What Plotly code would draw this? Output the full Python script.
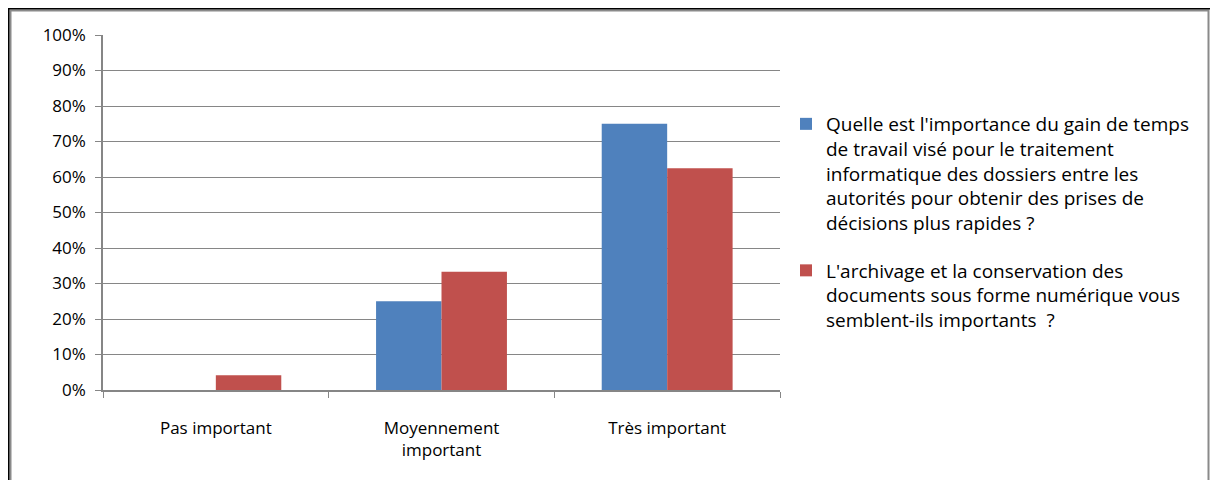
import plotly.graph_objects as go

categories = ["Pas important", "Moyennement<br>important", "Très important"]
series_names = [
    "Quelle est l'importance du gain de temps<br>de travail visé pour le traitement<br>"
    "informatique des dossiers entre les<br>autorités pour obtenir des prises de<br>"
    "décisions plus rapides ?",
    "L'archivage et la conservation des<br>documents sous forme numérique vous<br>"
    "semblent-ils importants  ?",
]
gain_temps = [0, 25, 75]
archivage = [4.17, 33.33, 62.5]
colors = ["#4F81BD", "#C0504D"]
y_ticks = list(range(0, 101, 10))
y_labels = [f"{v}%" for v in y_ticks]

# the page body has an 8px margin, so the figure is placed 8px in
OFF = 8
W, H = 1218 - 2 * OFF, 488 - 2 * OFF
L, R, T, B = 103, 780, 35, 390  # plot area, in page pixels


def px(x):
    return (x - L) / (R - L)


def py(y):
    return (B - y) / (B - T)


fig = go.Figure()
for name, vals, col, grp in zip(series_names, [gain_temps, archivage], colors, ["a", "b"]):
    fig.add_trace(go.Bar(x=categories, y=vals, name=name, marker_color=col,
                         marker_line_width=0, legendgroup=grp))

grid = "#868686"
fig.update_layout(
    width=W, height=H,
    margin=dict(l=L - OFF, r=W + OFF - R, t=T - OFF, b=H + OFF - B),
    paper_bgcolor="white", plot_bgcolor="white",
    font=dict(family="Open Sans", size=17, color="black"),
    barmode="group", bargap=0.42, bargroupgap=0,
    showlegend=True,
    legend=dict(x=px(786), y=py(105), xanchor="left", yanchor="top",
                font=dict(size=19), tracegroupgap=20, itemwidth=30,
                valign="top", bgcolor="rgba(0,0,0,0)"),
    xaxis=dict(showline=True, linecolor=grid, linewidth=1.5, ticks="outside",
               tickson="boundaries", ticklen=6, tickcolor=grid,
               ticklabelstandoff=22, showgrid=False),
    yaxis=dict(range=[0, 100], tickmode="array", tickvals=y_ticks, ticktext=y_labels,
               showline=True, linecolor=grid, linewidth=1.5, ticks="outside",
               ticklen=6, tickcolor=grid, showgrid=True, gridcolor=grid,
               gridwidth=1, zeroline=False, ticklabelstandoff=6),
    shapes=[
        dict(type="rect", xref="paper", yref="paper",
             x0=px(10.5), x1=px(1208.5), y0=py(10.5), y1=py(520),
             line=dict(color="#8a8a8a", width=2)),
        dict(type="line", xref="paper", yref="paper",
             x0=px(8.5), x1=px(8.5), y0=py(8), y1=py(520),
             line=dict(color="black", width=2)),
        dict(type="line", xref="paper", yref="paper",
             x0=px(8), x1=px(1218), y0=py(8.5), y1=py(8.5),
             line=dict(color="black", width=2)),
    ],
)

fig.write_html("out.html")
